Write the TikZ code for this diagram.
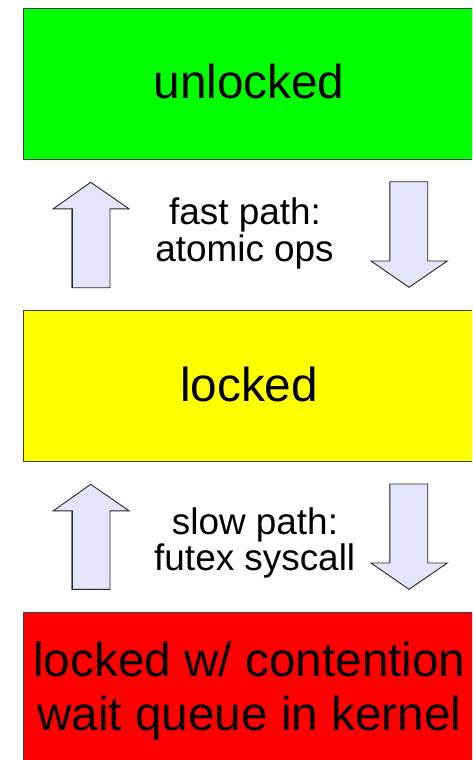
\documentclass[tikz,border=0pt]{standalone}
\usepackage{fontspec}
\setmainfont{Liberation Sans}
\definecolor{stategreen}{RGB}{0,255,0}
\definecolor{stateyellow}{RGB}{255,255,0}
\definecolor{statered}{RGB}{255,0,0}
\definecolor{arrowfill}{RGB}{228,228,250}
\tikzset{
  statebox/.style={draw=black!75, line width=1pt, minimum width=452pt,
    minimum height=151pt, inner sep=0pt, anchor=north west},
  bigtext/.style={font=\fontsize{47.7}{54}\selectfont, inner sep=0pt, anchor=base},
  smalltext/.style={font=\fontsize{36.9}{38}\selectfont, inner sep=0pt, anchor=base},
  blockarrow/.style={draw=black!85, line width=0.9pt, fill=arrowfill, line join=miter},
  blockshadow/.style={draw=black!45, line width=1.2pt},
}
\begin{document}
\begin{tikzpicture}[x=1pt, y=-1pt]
  \useasboundingbox (0,0) rectangle (472,760);
  \clip (0,0) rectangle (472,760);
  \fill[white] (0,0) rectangle (472,760);

  % the three lock states
  \node[statebox, fill=stategreen]  (unlocked)  at (23,8)   {};
  \node[statebox, fill=stateyellow] (locked)    at (23,310) {};
  \node[statebox, fill=statered]    (contended) at (23,612) {};

  \node[bigtext] (unlockedtxt) at (249,98.3)   {unlocked};
  \node[bigtext] (lockedtxt)   at (249,401.7)  {locked};
  \node[bigtext] (contline1)   at (249.5,676.7) {locked w/ contention};
  \node[bigtext] (contline2)   at (249.5,730)   {wait queue in kernel};

  % transition labels
  \node[smalltext] (fast1) at (245,224.3) {fast path:};
  \node[smalltext] (fast2) at (244.5,261) {atomic ops};
  \node[smalltext] (slow1) at (255,534.3) {slow path:};
  \node[smalltext] (slow2) at (254.7,570.5) {futex syscall};

  % block arrows: up (towards unlocked) and down (towards contention)
  \foreach \t/\b in {182.3/287.7, 484.3/589.3}{
    \pgfmathsetmacro{\hb}{\t+26.5}
    \draw[blockshadow] (72.3-0.8,\b+0.6) -- (72.3-0.8,\hb);
    \draw[blockarrow] (90.7,\t) -- (129,\hb) -- (110,\hb) -- (110,\b)
      -- (72.3,\b) -- (72.3,\hb) -- (53.3,\hb) -- cycle;
  }
  \foreach \t/\b in {181.7/287.3, 484/589.3}{
    \pgfmathsetmacro{\hb}{\b-26.3}
    \draw[blockshadow] (390-0.8,\t) -- (390-0.8,\hb);
    \draw[blockarrow] (409,\b) -- (447.3,\hb) -- (427.7,\hb) -- (427.7,\t)
      -- (390,\t) -- (390,\hb) -- (371,\hb) -- cycle;
  }
\end{tikzpicture}
\end{document}
